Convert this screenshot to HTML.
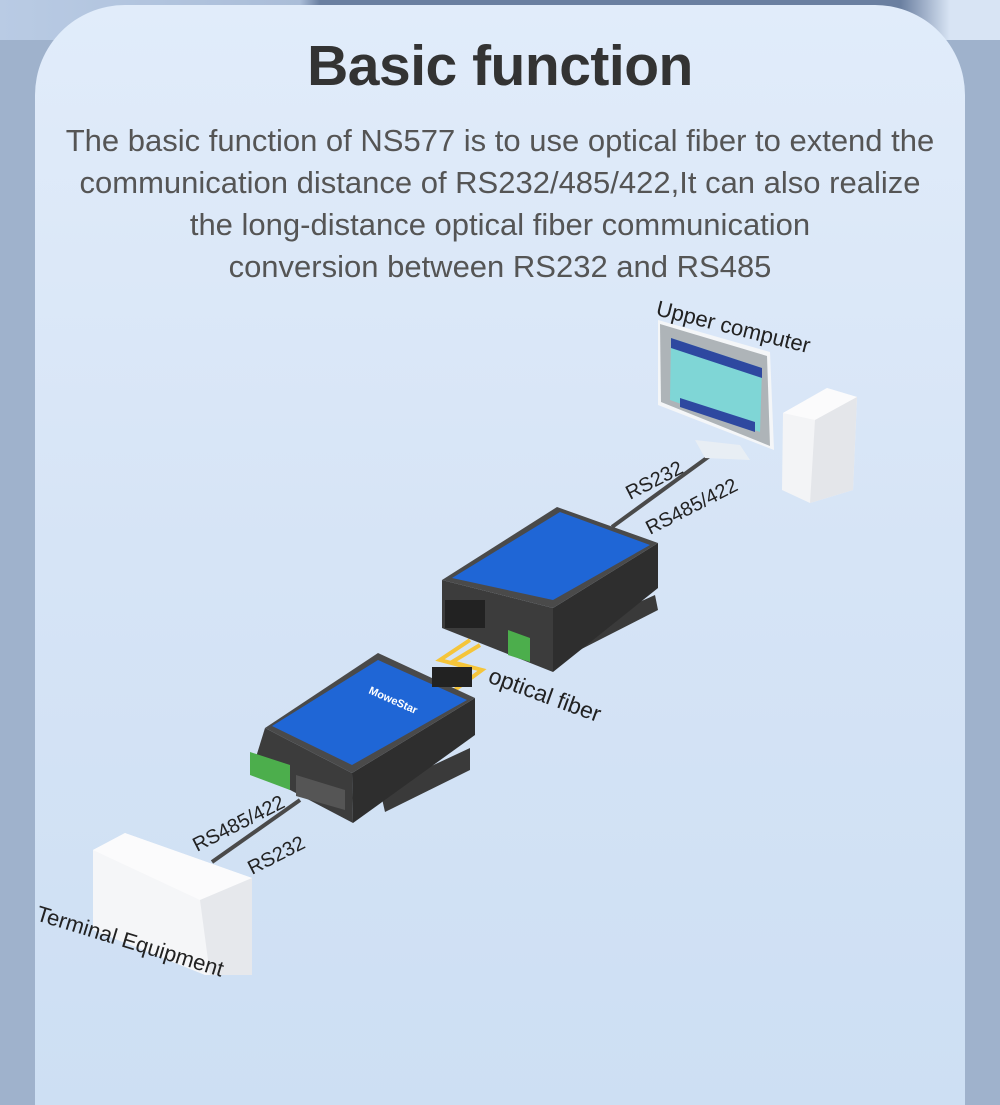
<!DOCTYPE html>
<html><head><meta charset="utf-8"><style>
html,body{margin:0;padding:0;}
body{width:1000px;height:1000px;overflow:hidden;background:#9fb2cc;position:relative;font-family:"Liberation Sans",sans-serif;}
.top{position:absolute;left:0;top:0;width:1000px;height:40px;background:linear-gradient(90deg,#b9cbe4 0,#aabdd8 30%,#6a7fa0 32%,#6a7fa0 90%,#d8e4f4 95%);}
.card{position:absolute;left:35px;top:5px;width:930px;height:1100px;border-radius:90px 90px 0 0;background:linear-gradient(180deg,#e1ecfa 0,#d6e4f6 50%,#cddff3 100%);}
h1{position:absolute;left:0;width:1000px;top:33px;margin:0;text-align:center;font-size:57px;font-weight:bold;color:#333;letter-spacing:-0.5px;}
.p{position:absolute;left:0;width:1000px;top:120px;text-align:center;font-size:31px;line-height:42px;color:#555;}
svg{position:absolute;left:0;top:0;}
</style></head><body>
<div class="top"></div>
<div class="card"></div>
<h1>Basic function</h1>
<div class="p">The basic function of NS577 is to use optical fiber to extend the<br>communication distance of RS232/485/422,It can also realize<br>the long-distance optical fiber communication<br>conversion between RS232 and RS485</div>
<svg width="1000" height="1000" viewBox="0 0 1000 1000" font-family="Liberation Sans, sans-serif">
<line x1="715" y1="452" x2="612" y2="527" stroke="#4a4a4a" stroke-width="4"/>
<line x1="300" y1="800" x2="212" y2="862" stroke="#4a4a4a" stroke-width="4"/>
<polyline points="470,640 440,660 470,668 440,690" fill="none" stroke="#f5c53a" stroke-width="4"/>
<polyline points="480,645 452,662 482,670 452,692" fill="none" stroke="#f5c53a" stroke-width="4"/>
<!-- monitor -->
<polygon points="695,440 740,445 750,460 705,458" fill="#e8eef4"/>
<polygon points="658,320 770,352 774,450 658,405" fill="#f4f6f8"/>
<polygon points="660,324 767,356 770,446 661,402" fill="#aeb4b8"/>
<polygon points="671,338 762,368 760,432 670,400" fill="#7fd6d6"/>
<polygon points="671,338 762,368 762,378 671,348" fill="#2e48a0"/>
<polygon points="680,398 755,422 755,432 680,407" fill="#2e48a0"/>
<!-- tower -->
<polygon points="783,413 827,388 857,397 853,490 810,503 782,490" fill="#f3f4f6"/>
<polygon points="783,413 827,388 857,397 815,420" fill="#fbfbfc"/>
<polygon points="815,420 857,397 853,490 810,503" fill="#e4e6ea"/>
<!-- device 2 -->
<polygon points="555,640 655,595 658,610 560,660" fill="#3a3a3a"/>
<polygon points="442,580 553,608 553,672 442,628" fill="#3c3c3c"/>
<polygon points="553,608 658,543 658,588 553,672" fill="#2e2e2e"/>
<polygon points="442,580 557,507 658,543 553,608" fill="#4a4a4a"/>
<polygon points="452,578 560,512 650,545 553,600" fill="#1f66d6"/>
<rect x="445" y="600" width="40" height="28" fill="#222"/>
<polygon points="508,630 530,638 530,662 508,655" fill="#4cae4c"/>
<!-- device 1 -->
<polygon points="380,790 470,748 470,770 385,812" fill="#3a3a3a"/>
<polygon points="265,728 352,773 353,823 252,770" fill="#3c3c3c"/>
<polygon points="352,773 475,698 475,735 353,823" fill="#2e2e2e"/>
<polygon points="265,728 378,653 475,698 352,773" fill="#4a4a4a"/>
<polygon points="272,726 378,660 467,700 352,765" fill="#1f66d6"/>
<rect x="432" y="667" width="40" height="20" fill="#222"/>
<polygon points="250,752 290,765 290,790 250,775" fill="#4cae4c"/>
<polygon points="296,775 345,790 345,810 296,796" fill="#555"/>
<text font-size="11" font-weight="bold" fill="#fff" transform="translate(368,693) rotate(24)">MoweStar</text>
<!-- terminal -->
<polygon points="93,850 125,833 252,878 252,975 205,975 93,930" fill="#f5f6f8"/>
<polygon points="125,833 252,878 200,900 93,850" fill="#fbfbfc"/>
<polygon points="200,900 252,878 252,975 210,975" fill="#e6e8ec"/>
<!-- labels -->
<text font-size="22" fill="#222" transform="translate(655,315) rotate(14)">Upper computer</text>
<text font-size="20" fill="#222" transform="translate(630,500) rotate(-27)">RS232</text>
<text font-size="20" fill="#222" transform="translate(650,535) rotate(-27)">RS485/422</text>
<text font-size="23" fill="#222" transform="translate(487,682) rotate(20)">optical fiber</text>
<text font-size="20" fill="#222" transform="translate(197,852) rotate(-27)">RS485/422</text>
<text font-size="20" fill="#222" transform="translate(252,875) rotate(-27)">RS232</text>
<text font-size="22" fill="#222" transform="translate(35,920) rotate(17)">Terminal Equipment</text>
</svg>
</body></html>
